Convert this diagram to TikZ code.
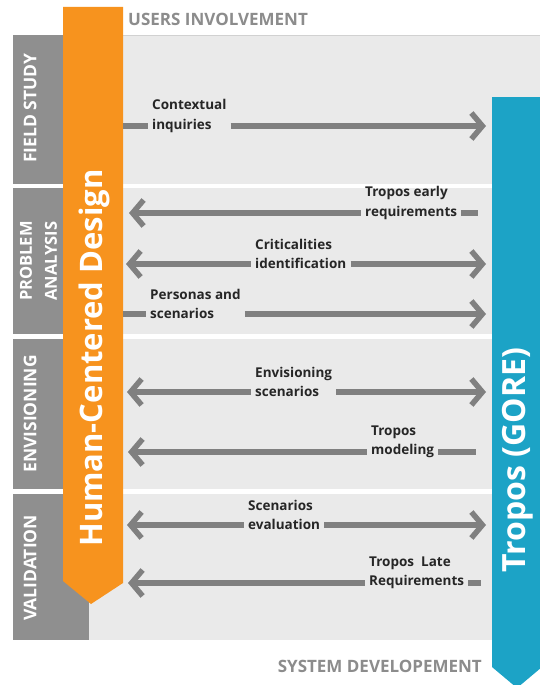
\documentclass[tikz,border=0pt]{standalone}
\usepackage{fontspec}
\setmainfont{Open Sans}
\usetikzlibrary{arrows.meta}
\definecolor{hcdorange}{HTML}{F7931E}
\definecolor{gorebl}{HTML}{1CA3C6}
\definecolor{labgray}{HTML}{8F8F8F}
\definecolor{panelgray}{HTML}{EAEAEA}
\definecolor{arrgray}{HTML}{808080}
\definecolor{hdrgray}{HTML}{8C8C8C}
\definecolor{txtdark}{HTML}{262626}
\begin{document}
\begin{tikzpicture}[x=1pt,y=-1pt,
  lbl/.style={font=\fontsize{13.5}{19.5}\selectfont\bfseries, text=txtdark, align=left, inner xsep=4pt, inner ysep=0pt, anchor=west},
  arr/.style={draw=arrgray, line width=5.5pt},
  tipr/.style={-{Straight Barb[length=11pt,width=26pt]}},
  tipl/.style={{Straight Barb[length=11pt,width=26pt]}-},
  hdr/.style={font=\fontsize{17}{20}\selectfont\bfseries, text=hdrgray, inner sep=0pt},
  phase/.style={font=\fontsize{17.5}{24}\selectfont\bfseries, text=white, rotate=90, align=center, inner sep=0pt},
  bigtitle/.style={text=white, rotate=90, inner sep=0pt}
]
\useasboundingbox (0,0) rectangle (540,685);
\clip (0,0) rectangle (540,685);
\fill[white] (0,0) rectangle (540,685);
% panels
\fill[panelgray] (13,35) rectangle (540,184);
\draw[black!18, line width=0.8pt] (123,35.4) -- (540,35.4);
\fill[panelgray] (13,188) rectangle (540,334);
\fill[panelgray] (13,339) rectangle (540,489);
\fill[panelgray] (13,494) rectangle (540,640);
% phase boxes
\fill[labgray] (13,35) rectangle (64,184);
\fill[labgray] (13,188) rectangle (64,334);
\fill[labgray] (13,339) rectangle (64,489);
\fill[labgray] (13,494) rectangle (89,640);
\node[phase] (fs) at (30,108) {FIELD STUDY};
\node[phase, font=\fontsize{16.5}{25}\selectfont\bfseries] (pa) at (38.5,261) {PROBLEM\\ANALYSIS};
\node[phase] (en) at (30,414) {ENVISIONING};
\node[phase] (va) at (30,568) {VALIDATION};
% orange bar
\fill[hcdorange] (63,7) -- (123,7) -- (123,583) -- (91,604) -- (63,581) -- cycle;
\node[bigtitle, font=\fontsize{31}{32}\selectfont\bfseries] (hcd) at (94,358) {Human-Centered Design};
% blue bar
\fill[gorebl] (492,97) -- (542,97) -- (542,667) -- (517,688) -- (492,667) -- cycle;
\node[bigtitle, font=\fontsize{32}{34}\selectfont\bfseries] (gore) at (518,460) {Tropos (GORE)};
% headers
\node[hdr, anchor=base west] (ui) at (128,26) {USERS INVOLVEMENT};
\node[hdr, anchor=base east] (sd) at (482,672) {SYSTEM DEVELOPEMENT};
% arrow 1
\coordinate (a1L) at (123,126); \coordinate (a1R) at (486,126);
\node[lbl] (a1) at (148,116) {Contextual\\inquiries};
\draw[arr] (a1L) -- (a1L -| a1.west);
\draw[arr, tipr] (a1.east |- a1R) -- (a1R);
% arrow 2
\coordinate (a2L) at (129,213); \coordinate (a2R) at (478,213);
\node[lbl] (a2) at (361,203) {Tropos early\\requirements};
\draw[arr, tipl] (a2L) -- (a2L -| a2.west);
\draw[arr] (a2.east |- a2R) -- (a2R);
% arrow 3
\coordinate (a3L) at (126,264); \coordinate (a3R) at (486,264);
\node[lbl] (a3) at (251,254) {Criticalities\\identification};
\draw[arr, tipl] (a3L) -- (a3L -| a3.west);
\draw[arr, tipr] (a3.east |- a3R) -- (a3R);
% arrow 4
\coordinate (a4L) at (123,314); \coordinate (a4R) at (486,314);
\node[lbl] (a4) at (146,304) {Personas and\\scenarios};
\draw[arr] (a4L) -- (a4L -| a4.west);
\draw[arr, tipr] (a4.east |- a4R) -- (a4R);
% arrow 5
\coordinate (a5L) at (127,392); \coordinate (a5R) at (486,392);
\node[lbl] (a5) at (251,382) {Envisioning\\scenarios};
\draw[arr, tipl] (a5L) -- (a5L -| a5.west);
\draw[arr, tipr] (a5.east |- a5R) -- (a5R);
% arrow 6
\coordinate (a6L) at (128,452); \coordinate (a6R) at (476,452);
\node[lbl] (a6) at (367,442) {Tropos\\modeling};
\draw[arr, tipl] (a6L) -- (a6L -| a6.west);
\draw[arr] (a6.east |- a6R) -- (a6R);
% arrow 7
\coordinate (a7L) at (127,525); \coordinate (a7R) at (486,525);
\node[lbl] (a7) at (244,515) {Scenarios\\evaluation};
\draw[arr, tipl] (a7L) -- (a7L -| a7.west);
\draw[arr, tipr] (a7.east |- a7R) -- (a7R);
% arrow 8
\coordinate (a8L) at (128,583); \coordinate (a8R) at (481,583);
\node[lbl] (a8) at (365,573) {Tropos~~Late\\Requirements};
\draw[arr, tipl] (a8L) -- (a8L -| a8.west);
\draw[arr] (a8.east |- a8R) -- (a8R);
\end{tikzpicture}
\end{document}
